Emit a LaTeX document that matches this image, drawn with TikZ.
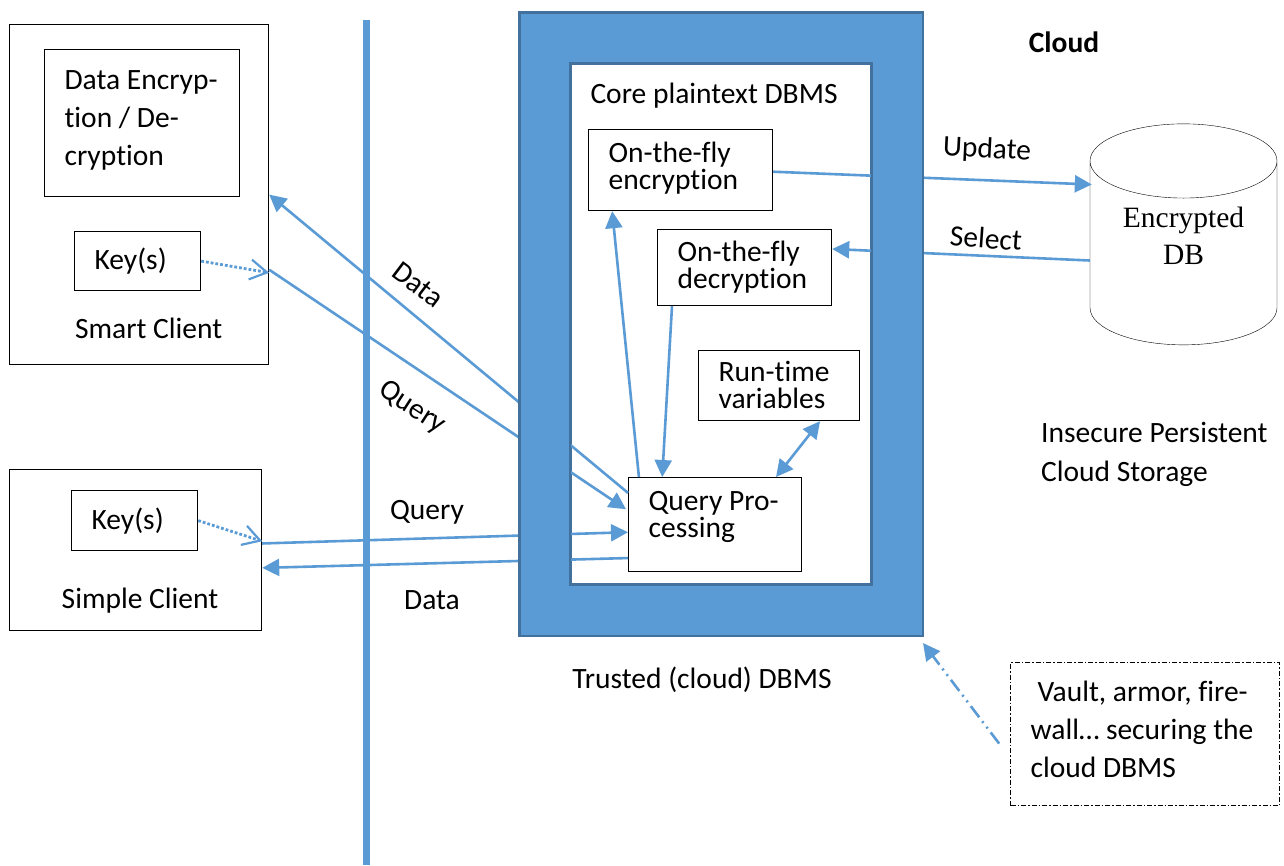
\documentclass[tikz,border=0pt]{standalone}
\usepackage{fontspec}
\setmainfont{Carlito}[Ligatures=NoCommon]
\newfontfamily\serifdb{Liberation Serif}
\usetikzlibrary{positioning,arrows.meta,shapes.geometric}
\definecolor{linkblue}{HTML}{5B9BD5}
\definecolor{edgeblue}{HTML}{41719C}

\begin{document}
\begin{tikzpicture}[x=1pt,y=-1pt]
\tikzstyle{every node}=[font=\fontsize{29.5}{38}\selectfont]
\tikzstyle{element}=[draw,rectangle,line width=1.2pt,anchor=north west,align=flush left,inner xsep=20pt,inner ysep=0pt]
\tikzstyle{tight}=[element,font=\fontsize{29.5}{27}\selectfont]
\tikzstyle{caption}=[inner sep=0pt,align=flush left]
\tikzstyle{link}=[draw=linkblue,line width=2.6pt,>={Triangle[length=17pt,width=17pt]}]
\tikzstyle{keylink}=[draw=linkblue,line width=2.8pt,dotted,>={Straight Barb[length=17pt,width=20pt,line width=2.2pt]}]
\useasboundingbox (0,0) rectangle (1284,865);

\node[draw=edgeblue,fill=linkblue,line width=2.5pt,minimum width=401pt,minimum height=621pt,anchor=north west,inner sep=0pt] (frame) at (519.5,12.5) {};
\node[element,draw=edgeblue,fill=white,line width=2pt,text width=260.5pt,text height=39pt,text depth=481pt] (core) at (569.5,63) {Core plaintext DBMS};

\node[element,text width=219pt,text height=340pt,text depth=0pt] (smart) at (9,24) {};
\node[element,text width=155pt,text height=40pt,text depth=107pt] (crypt) at (44,49) {Data Encryp-\\tion / De-\\cryption};
\node[element,text width=86pt,text height=38pt,text depth=21pt] (keya) at (74,231) {Key(s)};
\node[caption,below=27pt of keya,xshift=11pt] (smartlabel) {Smart Client};

\node[element,text width=212pt,text height=161pt,text depth=0pt] (simple) at (9,469) {};
\node[element,text width=86pt,text height=39pt,text depth=21pt] (keyb) at (71,490) {Key(s)};
\node[caption,anchor=center] (simplelabel) at (140,601) {Simple Client};

\node[tight,text width=144pt,text height=33pt,text depth=48pt] (enc) at (588,129) {On-the-fly\\encryption};
\node[tight,text width=134pt,text height=32pt,text depth=44pt] (dec) at (657,229) {On-the-fly\\decryption};
\node[tight,text width=121pt,text height=31pt,text depth=39pt] (rtv) at (698,350) {Run-time\\variables};
\node[tight,text width=133pt,text height=33pt,text depth=61pt] (qp) at (628,477) {Query Pro-\\cessing};

\node[draw,cylinder,shape border rotate=90,aspect=0.53,minimum width=187pt,minimum height=221pt,inner sep=0pt,align=flush center,text width=140pt,text height=20pt,text depth=71pt,fill=white,font=\fontsize{29.5}{37}\serifdb\selectfont] (db) at (1183.5,253) {Encrypted\\DB};
\node[element,dash pattern=on 5pt off 2pt on 1.5pt off 2pt,text width=229pt,text height=39pt,text depth=104pt] (vault) at (1010,662) {\hspace{7pt}Vault, armor, fire-\\wall\dots\ securing the\\cloud DBMS};

\coordinate (walltop) at (366,20);
\coordinate (wallbot) at (366,865);

% connectors, the frame ring goes over them afterwards
\draw[link,->] (qp.160) -- (smart.east);
\draw[link,->] (smart.-30) -- ([xshift=-2pt]qp.170);
\draw[link,->] (simple.3) -- (qp.185);
\draw[link,->] (qp.201) -- (simple.-8);
\draw[link,->] (enc.-1) -- ([yshift=68.5pt,xshift=2pt]db.west);
\draw[link,->] ([yshift=-7.5pt]db.west) -- (dec.12);
\draw[link,->] (qp.148) -- (enc.211);
\draw[link,->] (dec.208) -- (qp.138);
\draw[link,<->] (rtv.-41) -- (qp.38);

\fill[linkblue,even odd rule] (frame.north west) rectangle (frame.south east) (core.north west) rectangle (core.south east);
\draw[edgeblue,line width=2pt] (core.north west) rectangle (core.south east);
\draw[edgeblue,line width=2.5pt] (frame.north west) rectangle (frame.south east);

\draw[linkblue,line width=7pt] (walltop) -- (wallbot);
\draw[keylink,->] (keya.east) -- (smart.-31);
\draw[keylink,->] (keyb.east) -- (simple.4);
\draw[link,->,dash pattern=on 14pt off 5pt on 2pt off 5pt on 2pt off 5pt,shorten <=18pt] (vault.190) -- ([yshift=-7pt]frame.south east);

\node[caption,rotate=-37] (datalabela) at (418,285) {Data};
\node[caption,rotate=-33] (querylabela) at (412,408) {Query};
\node[caption] (querylabelb) at (427,512) {Query};
\node[caption] (datalabelb) at (432,600) {Data};
\node[caption,rotate=-3] (updatelabel) at (987,150) {Update};
\node[caption,rotate=-4] (selectlabel) at (986,238) {Select};
\node[caption] (trusted) at (702,680) {Trusted (cloud) DBMS};
\node[caption,font=\fontsize{29.5}{38}\bfseries\selectfont] (cloud) at (1064,42) {Cloud};
\node[caption,anchor=north west] (insecure) at (1041,422) {Insecure Persistent\\[1pt]Cloud Storage};
\end{tikzpicture}
\end{document}
